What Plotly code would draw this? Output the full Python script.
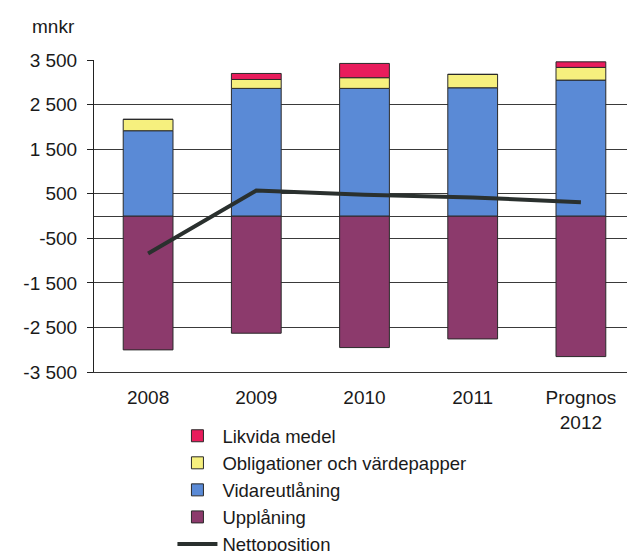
import plotly.graph_objects as go

categories = ["2008", "2009", "2010", "2011", "Prognos<br>2012"]
likvida = [0, 135, 320, 0, 125]
obligationer = [255, 200, 240, 300, 285]
vidareutlaning = [1913, 2863, 2863, 2877, 3049]
upplaning = [-3004, -2630, -2952, -2758, -3154]
netto = [-840, 570, 475, 415, 310]

ytick_vals = [3500, 2500, 1500, 500, -500, -1500, -2500, -3500]
ytick_text = ["3 500", "2 500", "1 500", "500", "-500", "-1 500", "-2 500", "-3 500"]

FONT = "Liberation Sans, Arial, sans-serif"
outline = dict(color="#2a2a2a", width=1)

fig = go.Figure()
fig.add_trace(go.Bar(x=categories, y=upplaning, name="Upplåning",
                     marker=dict(color="#8c3a6c", line=outline),
                     legendrank=4, legendgroup="d"))
fig.add_trace(go.Bar(x=categories, y=vidareutlaning, name="Vidareutlåning",
                     marker=dict(color="#5a8ad6", line=outline),
                     legendrank=3, legendgroup="c"))
fig.add_trace(go.Bar(x=categories, y=obligationer, name="Obligationer och värdepapper",
                     marker=dict(color="#f6f07e", line=outline),
                     legendrank=2, legendgroup="b"))
fig.add_trace(go.Bar(x=categories, y=likvida, name="Likvida medel",
                     marker=dict(color="#e81c5c", line=outline),
                     legendrank=1, legendgroup="a"))
fig.add_trace(go.Scatter(x=categories, y=netto, name="Nettoposition", mode="lines",
                         line=dict(color="#2a302e", width=4),
                         legendrank=5, legendgroup="e"))

fig.update_layout(
    width=635, height=551,
    margin=dict(l=85.5, r=8, t=51.5, b=187, autoexpand=False),
    paper_bgcolor="white", plot_bgcolor="white",
    barmode="relative", bargap=0.54,
    font=dict(family=FONT, size=19, color="#1a1a1a"),
    showlegend=True,
    legend=dict(x=0.145, y=-0.145, xanchor="left", yanchor="top",
                font=dict(size=18.5, color="#1a1a1a"), itemwidth=40,
                tracegroupgap=0, bgcolor="rgba(0,0,0,0)"),
    xaxis=dict(range=[-0.5, 4.5], showgrid=False, ticks="",
               showline=True, linecolor="#333", linewidth=1,
               ticklabelstandoff=8, tickfont=dict(size=19)),
    xaxis2=dict(overlaying="x", anchor="free", position=0.5, side="bottom",
                range=[-0.5, 4.5], tickmode="array", tickvals=[0.5, 1.5, 2.5, 3.5],
                ticks="outside", ticklen=5, tickcolor="#333", showticklabels=False,
                showgrid=False, showline=False, zeroline=False),
    yaxis=dict(range=[-3500, 3500], tickmode="array", tickvals=ytick_vals, ticktext=ytick_text,
               showgrid=True, gridcolor="#3a3a3a", gridwidth=1,
               zeroline=True, zerolinecolor="#3a3a3a", zerolinewidth=1,
               showline=True, linecolor="#222", linewidth=1,
               ticks="outside", ticklen=6, tickcolor="#222",
               ticklabelstandoff=6, tickfont=dict(size=19)),
    annotations=[dict(text="mnkr", x=-0.1177, y=1.107, xref="paper", yref="paper",
                      xanchor="left", yanchor="middle", showarrow=False,
                      font=dict(size=19, color="#1a1a1a"))],
)

fig.write_html("out.html")
